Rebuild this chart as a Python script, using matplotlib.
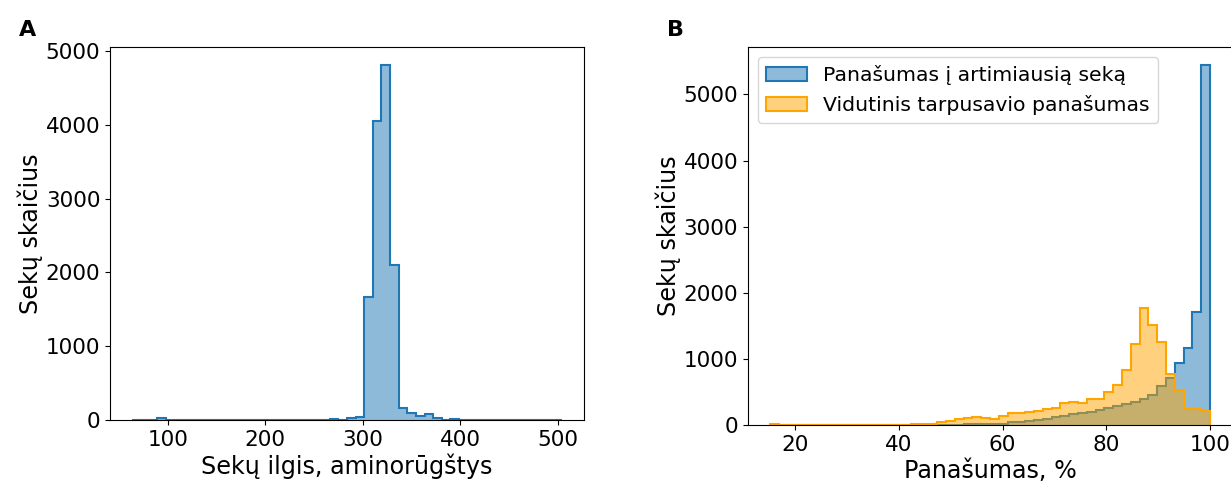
import numpy as np
import matplotlib
matplotlib.use("Agg")
import matplotlib.pyplot as plt

# A: sequence length histogram (50 bins, 63..505 aa)
len_range = (63, 505)
len_counts = [2, 1, 1, 22, 1, 1, 0, 1, 0, 1,
              0, 1, 0, 0, 1, 0, 1, 0, 1, 0,
              1, 2, 1, 18, 3, 25, 45, 1661, 4052, 4806,
              2094, 158, 91, 58, 80, 25, 2, 14, 1, 0,
              1, 0, 0, 1, 0, 0, 0, 1, 0, 2]

# B: similarity histograms (shared 50 bins, 15.1..100 %)
sim_range = (15.1, 100)
nearest_counts = [0, 0, 0, 0, 0, 0, 0, 0, 0, 0,
                  0, 0, 0, 0, 0, 0, 0, 1, 1, 2,
                  3, 5, 8, 10, 12, 15, 20, 38, 45, 60,
                  76, 90, 116, 135, 166, 176, 201, 227, 252, 287,
                  317, 352, 400, 450, 590, 705, 932, 1168, 1711, 5453]
mean_counts = [20, 2, 1, 1, 1, 1, 1, 1, 2, 2,
               2, 3, 3, 4, 5, 6, 8, 20, 22, 40,
               65, 86, 101, 116, 101, 86, 136, 176, 186, 201,
               217, 237, 262, 327, 342, 327, 388, 388, 504, 604,
               831, 1224, 1772, 1511, 1259, 766, 529, 240, 245, 205]
labels_b = ["Panašumas į artimiausią seką", "Vidutinis tarpusavio panašumas"]

plt.rcParams["font.family"] = "DejaVu Sans"
tick_fs = 15.5
label_fs = 17.2

fig = plt.figure(figsize=(12.31, 4.86), dpi=100)
ax1 = fig.add_axes([0.0894, 0.1358, 0.3850, 0.7665])
ax2 = fig.add_axes([0.6076, 0.1255, 0.3932, 0.7788])

edges_a = np.linspace(len_range[0], len_range[1], len(len_counts) + 1)
ax1.stairs(len_counts, edges_a, fill=True, facecolor=("tab:blue", 0.5),
           edgecolor="tab:blue", linewidth=1.5)
ax1.set_xlabel("Sekų ilgis, aminorūgštys", fontsize=label_fs, labelpad=3)
ax1.set_ylabel("Sekų skaičius", fontsize=label_fs, labelpad=2)
ax1.tick_params(labelsize=tick_fs)

edges_b = np.linspace(sim_range[0], sim_range[1], len(nearest_counts) + 1)
ax2.stairs(nearest_counts, edges_b, fill=True, facecolor=("tab:blue", 0.5),
           edgecolor="tab:blue", linewidth=1.5, label=labels_b[0])
ax2.stairs(mean_counts, edges_b, fill=True, facecolor=("orange", 0.5),
           edgecolor="orange", linewidth=1.5, label=labels_b[1])
ax2.set_xlabel("Panašumas, %", fontsize=label_fs, labelpad=3)
ax2.set_ylabel("Sekų skaičius", fontsize=label_fs, labelpad=2)
ax2.tick_params(labelsize=tick_fs)
ax2.legend(loc="upper left", fontsize=14.7)

fig.text(0.015, 0.926, "A", fontsize=16, fontweight="bold")
fig.text(0.5418, 0.926, "B", fontsize=16, fontweight="bold")

fig.savefig("out.png", dpi=100)
